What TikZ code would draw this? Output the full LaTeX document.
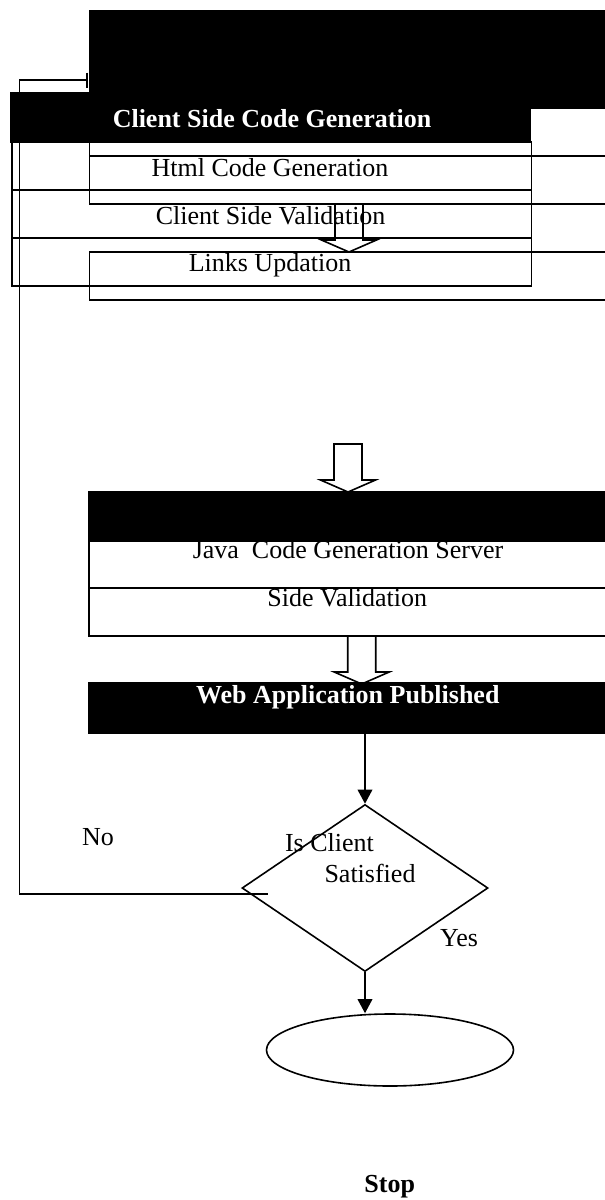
\documentclass[tikz,border=0pt]{standalone}
\usepackage{fontspec}
\setmainfont{Liberation Serif}
\usetikzlibrary{shapes.geometric,arrows.meta}
\tikzset{
  ln/.style={line width=0.8pt},
  blackbox/.style={rectangle, fill=black, draw=black, line width=0.8pt, inner sep=0pt},
  openbox/.style={rectangle, draw=black, line width=0.8pt, inner sep=0pt},
  txt/.style={font=\fontsize{13}{15}\selectfont, inner sep=0pt, anchor=base},
  wtxt/.style={txt, text=white, font=\fontsize{13}{15}\selectfont\bfseries},
  blockarrow/.pic={\draw[line width=0.8pt] (-14,0) -- (-14,36) -- (-27.5,36) -- (0,48) -- (27.5,36) -- (14,36) -- (14,0) -- cycle;},
  tip/.style={-{Triangle[length=7pt,width=7.3pt]}}
}
\begin{document}
\begin{tikzpicture}[x=0.5pt,y=-0.5pt]
\useasboundingbox (0,0) rectangle (605,1200);
\clip (0,0) rectangle (605,1200);
% top black and client side header
\node[blackbox, minimum width=261.25pt, minimum height=48.75pt] (topblack) at (350.75,59.75) {};
\node[blackbox, minimum width=260pt, minimum height=24.5pt] (cscg) at (270.5,117.5) {};
\node[wtxt] (cscgt) at (272,127.7) {Client Side Code Generation};
% overlapping boxes
\node[openbox, minimum width=221pt, minimum height=31pt] (htmlouter) at (310.5,173) {};
\node[openbox, minimum width=261.25pt, minimum height=24pt] (rectb) at (350.75,180) {};
\node[openbox, minimum width=259.75pt, minimum height=24pt] (html) at (271.75,166) {};
\node[openbox, minimum width=259.75pt, minimum height=24pt] (csv) at (271.75,214) {};
\node[openbox, minimum width=259.75pt, minimum height=24pt] (links) at (271.75,262) {};
\node[openbox, minimum width=261.25pt, minimum height=24pt] (rectd) at (350.75,276) {};
\node[txt] (htmlt) at (270,176) {Html Code Generation};
\node[txt] (csvt) at (270.6,224) {Client Side Validation};
\node[txt] (linkst) at (270,271.7) {Links Updation};
\pic at (349,204) {blockarrow};
% feedback line
\coordinate (fb1) at (267.5,894);
\coordinate (fbtop) at (19.3,80);
\coordinate (fbend) at (88,80);
\draw[ln, -{Bar[width=7.5pt]}] (fb1) -| (fbtop) -- (fbend);
% server side
\pic at (348,444) {blockarrow};
\node[blackbox, minimum width=261.5pt, minimum height=24.5pt] (black2) at (350.5,516.2) {};
\node[openbox, minimum width=261.5pt, minimum height=23.65pt] (java) at (350.5,564.35) {};
\node[openbox, minimum width=261.5pt, minimum height=24pt] (sideval) at (350.5,612) {};
\node[txt] (javat) at (348,558.3) {Java\ \ Code Generation Server};
\node[txt] (sidevalt) at (347.2,606.7) {Side Validation};
\pic at (361.7,636) {blockarrow};
\node[blackbox, minimum width=261.5pt, minimum height=25pt] (webpub) at (350.5,708) {};
\node[wtxt] (webpubt) at (347.8,703.3) {Web Application Published};
% decision
\node[diamond, draw=black, line width=0.8pt, inner sep=0pt, minimum width=123pt, minimum height=83.5pt] (decision) at (365,888) {};
\draw[ln, tip] (webpub.south -| decision.north) -- (decision.north);
\node[txt] (ist) at (329.5,851.7) {Is Client};
\node[txt] (satt) at (370,882.7) {Satisfied};
\node[txt] (not) at (98,845) {No};
\node[txt] (yest) at (459,946.7) {Yes};
% stop
\node[ellipse, draw=black, line width=0.8pt, inner sep=0pt, minimum width=123.5pt, minimum height=36pt] (stop) at (390,1050) {};
\draw[ln, tip] (decision.south) -- (decision.south |- stop.north);
\node[txt, font=\fontsize{13}{15}\selectfont\bfseries] (stopt) at (389.7,1192) {Stop};
\end{tikzpicture}
\end{document}
